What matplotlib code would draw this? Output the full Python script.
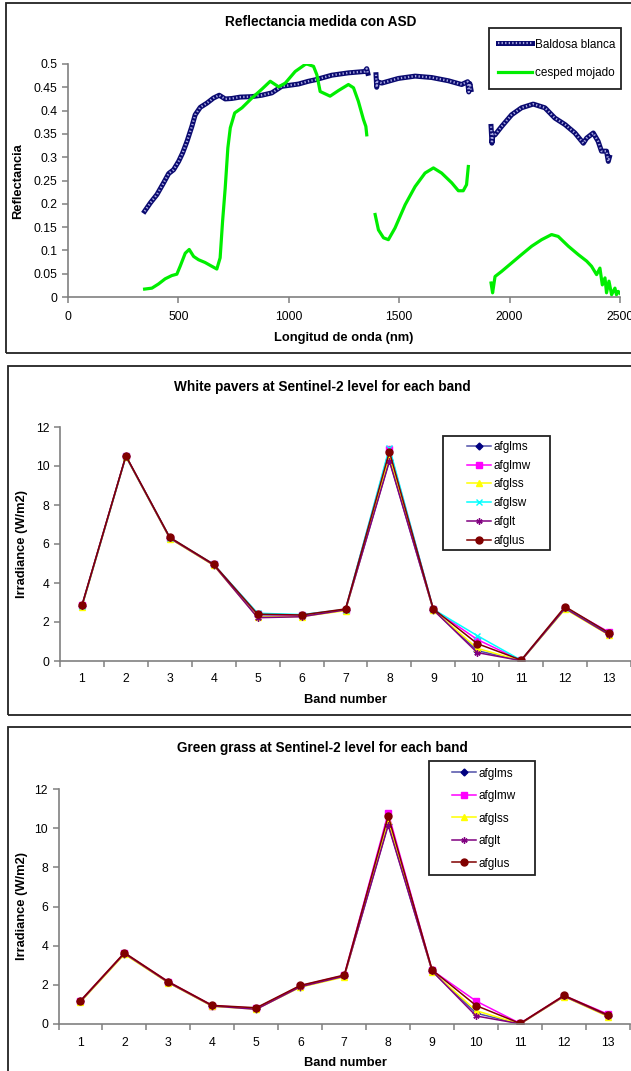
import numpy as np
import matplotlib
matplotlib.use("Agg")
import matplotlib.pyplot as plt
from matplotlib.patches import Rectangle
from matplotlib.legend_handler import HandlerTuple

plt.rcParams['font.family'] = ['Liberation Sans', 'DejaVu Sans']

# ---------------- Data: top chart (ASD reflectance) ----------------
nan = np.nan
baldosa_nm = [347, 373, 403, 433, 456, 478, 501, 519, 539, 561, 576, 599, 629, 659, 685, 712, 742,
              780, 833, 878, 923, 968, 1044, 1089, 1119, 1195, 1270, 1345, 1353, 1358,
              nan,
              1395, 1398, 1401, 1421, 1496, 1572, 1647, 1723, 1783, 1810, 1815, 1820, 1825,
              nan,
              1916, 1920, 1925, 1934, 1964, 2009, 2054, 2107, 2160, 2205, 2251, 2296, 2334, 2349,
              2379, 2401, 2416, 2439, 2447, 2452]
baldosa_refl = [0.184, 0.202, 0.220, 0.245, 0.265, 0.273, 0.291, 0.309, 0.334, 0.366, 0.391, 0.407,
                0.416, 0.427, 0.433, 0.425, 0.426, 0.429, 0.430, 0.433, 0.438, 0.452, 0.457, 0.463,
                0.466, 0.476, 0.481, 0.484, 0.490, 0.480,
                nan,
                0.477, 0.450, 0.462, 0.459, 0.469, 0.474, 0.471, 0.464, 0.456, 0.462, 0.440, 0.458, 0.445,
                nan,
                0.366, 0.330, 0.350, 0.348, 0.366, 0.391, 0.406, 0.414, 0.406, 0.384, 0.370, 0.352,
                0.330, 0.341, 0.352, 0.334, 0.313, 0.313, 0.291, 0.300]

cesped_nm = [347, 380, 410, 440, 470, 493, 508, 531, 549, 569, 591, 621, 651, 674, 689, 700, 712, 724,
             735, 755, 788, 833, 878, 916, 954, 984, 1029, 1074, 1081, 1112, 1127, 1142, 1187, 1225,
             1270, 1293, 1315, 1338, 1349, 1353,
             nan,
             1391, 1406, 1429, 1451, 1481, 1527, 1572, 1617, 1655, 1692, 1738, 1768, 1790, 1805, 1813,
             nan,
             1916, 1923, 1934, 1964, 2009, 2054, 2100, 2145, 2190, 2220, 2266, 2311, 2349, 2371, 2394,
             2409, 2420, 2432, 2439, 2450, 2462, 2477, 2484, 2492, 2500]
cesped_refl = [0.017, 0.019, 0.028, 0.039, 0.046, 0.049, 0.066, 0.094, 0.102, 0.087, 0.080, 0.074,
               0.066, 0.060, 0.084, 0.162, 0.234, 0.320, 0.363, 0.395, 0.406, 0.427, 0.446, 0.463,
               0.451, 0.459, 0.484, 0.499, 0.500, 0.495, 0.477, 0.441, 0.431, 0.443, 0.456, 0.449,
               0.420, 0.381, 0.366, 0.348,
               nan,
               0.177, 0.144, 0.127, 0.123, 0.148, 0.198, 0.237, 0.266, 0.277, 0.266, 0.245, 0.228,
               0.228, 0.241, 0.280,
               nan,
               0.030, 0.009, 0.044, 0.055, 0.073, 0.091, 0.109, 0.123, 0.134, 0.130, 0.109, 0.091,
               0.077, 0.066, 0.048, 0.062, 0.026, 0.041, 0.009, 0.034, 0.005, 0.019, 0.005, 0.012, 0.008]

# ---------------- Data: Sentinel-2 bands ----------------
bands = list(range(1, 14))

pavers = {
    'afglms': [2.82, 10.50, 6.30, 4.93, 2.30, 2.30, 2.62, 10.30, 2.62, 0.53, 0.02, 2.70, 1.36],
    'afglmw': [2.85, 10.52, 6.32, 4.95, 2.40, 2.35, 2.64, 10.85, 2.66, 1.10, 0.03, 2.74, 1.48],
    'afglss': [2.78, 10.48, 6.28, 4.90, 2.25, 2.28, 2.58, 10.48, 2.60, 0.65, 0.01, 2.66, 1.33],
    'afglsw': [2.83, 10.50, 6.33, 4.95, 2.45, 2.38, 2.64, 10.94, 2.65, 1.30, 0.04, 2.72, 1.42],
    'afglt':  [2.82, 10.50, 6.30, 4.92, 2.22, 2.27, 2.62, 10.25, 2.62, 0.43, 0.02, 2.70, 1.35],
    'afglus': [2.87, 10.53, 6.34, 4.96, 2.40, 2.36, 2.67, 10.73, 2.67, 0.89, 0.05, 2.79, 1.44],
}

grass = {
    'afglms': [1.15, 3.60, 2.12, 0.92, 0.78, 1.90, 2.44, 10.20, 2.70, 0.55, 0.01, 1.42, 0.42],
    'afglmw': [1.18, 3.62, 2.15, 0.94, 0.80, 1.95, 2.48, 10.77, 2.74, 1.17, 0.03, 1.45, 0.50],
    'afglss': [1.12, 3.56, 2.10, 0.90, 0.76, 1.88, 2.40, 10.37, 2.68, 0.68, 0.00, 1.40, 0.38],
    'afglt':  [1.15, 3.60, 2.12, 0.92, 0.75, 1.90, 2.44, 10.15, 2.70, 0.41, 0.01, 1.42, 0.42],
    'afglus': [1.19, 3.64, 2.16, 0.95, 0.83, 1.97, 2.50, 10.62, 2.76, 0.94, 0.03, 1.46, 0.46],
}

series_style = {
    'afglms': dict(color='#000080', line='#5050a8', marker='D', ms=3.5),
    'afglmw': dict(color='#ff00ff', line='#ff00ff', marker='s', ms=4),
    'afglss': dict(color='#ffff00', line='#ffff00', marker='^', ms=4.5),
    'afglsw': dict(color='#00ffff', line='#00ffff', marker='x', ms=4),
    'afglt':  dict(color='#800080', line='#800080', marker=(6, 2, 0), ms=4.5),
    'afglus': dict(color='#800000', line='#800000', marker='o', ms=5),
}

TICK_FS = 8.8
LABEL_FS = 9.3
TITLE_FS = 9.8
LEG_FS = 8.5

W, H = 631, 1071
fig = plt.figure(figsize=(W / 100, H / 100), dpi=100)
fig.patch.set_facecolor('white')


def fx(px):
    return px / W


def fy(py):
    return 1 - py / H


def ax_rect(left, top, right, bottom):
    return [fx(left), fy(bottom), fx(right) - fx(left), fy(top) - fy(bottom)]


def frame(left, top, right, bottom):
    fig.patches.append(Rectangle((fx(left), fy(bottom)), fx(right) - fx(left), fy(top) - fy(bottom),
                                 transform=fig.transFigure, fill=False, edgecolor='#222222',
                                 linewidth=1.3, zorder=0))


def style_axes(ax):
    for s in ['top', 'right']:
        ax.spines[s].set_visible(False)
    for s in ['left', 'bottom']:
        ax.spines[s].set_color('#808080')
        ax.spines[s].set_linewidth(1.2)
    ax.tick_params(axis='both', colors='#808080', labelcolor='black', labelsize=TICK_FS,
                   direction='out', length=4, width=1.1)
    ax.set_facecolor('none')


# Panel frames
frame(6, 3, 640, 353)
frame(8, 366, 640, 715)
frame(8, 727, 640, 1080)

# ---------------- Panel 1 ----------------
ax1 = fig.add_axes(ax_rect(68, 64, 620, 297))
style_axes(ax1)
l_navy, = ax1.plot(baldosa_nm, baldosa_refl, color='#0a0a70', lw=3.6, solid_joinstyle='round')
l_white, = ax1.plot(baldosa_nm, baldosa_refl, color='#a8a8e0', lw=1.6, linestyle=(0, (0.6, 1.0)))
l_green, = ax1.plot(cesped_nm, cesped_refl, color='#00ee00', lw=2.3)
ax1.set_xlim(0, 2500)
ax1.set_ylim(0, 0.5)
ax1.set_xticks([0, 500, 1000, 1500, 2000, 2500])
ax1.set_yticks(np.arange(0, 0.501, 0.05))
ax1.set_yticklabels(['0', '0.05', '0.1', '0.15', '0.2', '0.25', '0.3', '0.35', '0.4', '0.45', '0.5'])
ax1.tick_params(axis='x', pad=6)
fig.text(fx(321), fy(22), 'Reflectancia medida con ASD', ha='center', va='center',
         fontsize=TITLE_FS, fontweight='bold')
fig.text(fx(18), fy(181), 'Reflectancia', ha='center', va='center', rotation=90,
         fontsize=LABEL_FS, fontweight='bold')
fig.text(fx(344), fy(338), 'Longitud de onda (nm)', ha='center', va='center',
         fontsize=LABEL_FS, fontweight='bold')
frame(489, 28, 621, 89)
ax1.legend([(l_navy, l_white), l_green], ['Baldosa blanca', 'cesped mojado'],
           handler_map={tuple: HandlerTuple(ndivide=1)},
           loc='upper left', bbox_to_anchor=(fx(498), fy(38.5)), bbox_transform=fig.transFigure,
           frameon=False, borderpad=0, borderaxespad=0, handlelength=2.9, handletextpad=0.2,
           labelspacing=1.40, fontsize=LEG_FS)


# ---------------- Panels 2 and 3 ----------------
def band_panel(rect, data, title, title_y, ylabel_y, xlabel_y, leg_frame, leg_anchor, leg_spacing):
    ax = fig.add_axes(rect)
    style_axes(ax)
    handles = []
    for name, vals in data.items():
        st = series_style[name]
        h, = ax.plot(bands, vals, color=st['line'], lw=1.1, marker=st['marker'], markersize=st['ms'],
                     markerfacecolor=st['color'], markeredgecolor=st['color'], markeredgewidth=1.0,
                     label=name)
        handles.append(h)
    ax.set_xlim(0.5, 13.5)
    ax.set_ylim(0, 12)
    ax.set_yticks(range(0, 13, 2))
    ax.set_xticks(bands)
    ax.set_xticks(np.arange(0.5, 13.6, 1), minor=True)
    ax.tick_params(axis='x', which='major', length=0, pad=9)
    ax.tick_params(axis='x', which='minor', length=4, width=1.1, colors='#808080', direction='out')
    fig.text(fx(322), fy(title_y), title, ha='center', va='center', fontsize=TITLE_FS,
             fontweight='bold')
    fig.text(fx(22), fy(ylabel_y), 'Irradiance (W/m2)', ha='center', va='center', rotation=90,
             fontsize=LABEL_FS, fontweight='bold')
    fig.text(fx(345), fy(xlabel_y), 'Band number', ha='center', va='center',
             fontsize=LABEL_FS, fontweight='bold')
    frame(*leg_frame)
    ax.legend(handles, list(data.keys()), loc='upper left',
              bbox_to_anchor=(fx(leg_anchor[0]), fy(leg_anchor[1])), bbox_transform=fig.transFigure,
              frameon=False, borderpad=0, borderaxespad=0, handlelength=2.0, handletextpad=0.25,
              labelspacing=leg_spacing, fontsize=LEG_FS)
    return ax


band_panel(ax_rect(60, 427, 631, 661), pavers, 'White pavers at Sentinel-2 level for each band',
           387, 544, 700, (443, 436, 550, 550), (467, 441), 0.57)
band_panel(ax_rect(58.5, 789, 630, 1024), grass, 'Green grass at Sentinel-2 level for each band',
           748, 906, 1063, (429, 761, 535, 875), (452, 767.5), 0.89)

fig.savefig('out.png', dpi=100)
